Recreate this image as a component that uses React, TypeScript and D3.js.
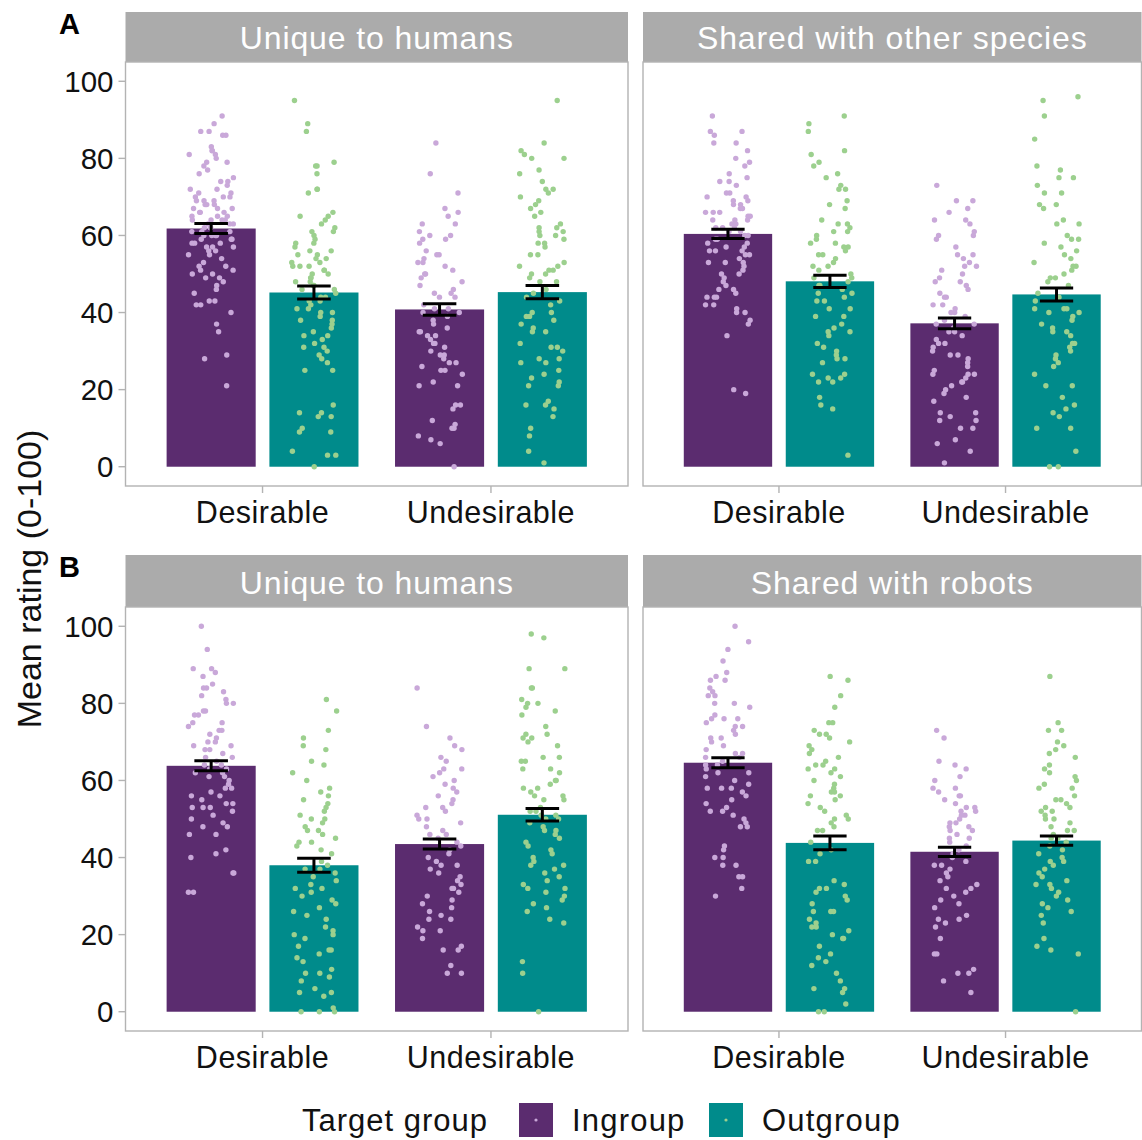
import React from "react";
import * as d3 from "d3";

// ---------- data ----------
const conditions = ["Desirable", "Undesirable"];
const targetGroups = ["Ingroup", "Outgroup"];
const panelTitles = ["Unique to humans", "Shared with other species", "Unique to humans", "Shared with robots"];
const panelTags = ["A", "", "B", ""];
const yTicks = [0, 20, 40, 60, 80, 100];

// bar means, order: Desirable-Ingroup, Desirable-Outgroup, Undesirable-Ingroup, Undesirable-Outgroup
const meansA1 = [61.8, 45.2, 40.8, 45.3];
const seA1 = [1.3, 1.7, 1.5, 1.7];
const meansA2 = [60.4, 48.1, 37.2, 44.7];
const seA2 = [1.2, 1.6, 1.4, 1.7];
const meansB1 = [63.8, 38.0, 43.5, 51.1];
const seB1 = [1.3, 1.8, 1.3, 1.6];
const meansB2 = [64.6, 43.8, 41.5, 44.4];
const seB2 = [1.3, 1.8, 1.2, 1.2];

// individual ratings
const ptsA1DesIn = [91,89,87,87,86,86,83,82,82,81,81,80,79,79,78,77,76,75,74,74,73,72,72,71,71,70,70,70,69,69,69,68,68,68,67,67,67,66,66,66,65,65,65,64,64,64,64,63,63,63,62,62,62,61,61,61,60,60,60,60,59,59,59,58,58,58,57,57,57,56,56,55,55,54,53,52,52,51,51,50,50,49,49,48,47,46,45,43,43,42,42,40,37,35,29,28,21];
const ptsA1DesOut = [95,89,87,79,78,78,76,72,72,71,66,65,65,64,63,62,61,61,60,59,58,58,57,56,56,55,55,54,54,53,53,52,52,52,51,51,50,50,49,49,48,48,47,47,46,46,45,44,44,43,43,42,41,41,40,40,39,38,38,37,36,35,34,34,33,32,31,31,30,29,28,27,25,25,16,14,14,13,13,10,9,9,4,3,3,0];
const ptsA1UndIn = [84,76,71,67,66,65,63,63,61,60,60,59,59,58,56,55,55,54,53,53,52,51,50,50,49,48,47,46,45,45,44,44,42,41,41,40,40,39,38,37,36,35,35,34,34,33,32,32,31,30,29,29,28,27,27,26,25,25,24,22,21,21,16,16,15,12,11,10,10,8,7,6,0];
const ptsA1UndOut = [95,84,82,81,80,80,77,76,74,72,72,71,70,69,68,67,66,65,63,62,62,61,61,60,60,59,58,58,57,55,55,53,52,52,51,51,50,50,49,48,48,46,45,44,43,42,40,40,39,39,38,37,36,35,35,32,31,31,30,28,28,27,27,25,24,23,22,21,21,17,16,16,15,13,10,8,4,1];

const ptsA2DesIn = [91,87,87,86,84,84,82,80,79,78,76,75,74,74,73,71,71,70,70,69,69,68,68,67,67,66,66,65,65,64,64,63,63,62,62,61,60,60,59,58,57,57,56,56,55,54,53,53,52,51,50,50,49,48,47,46,46,45,44,44,44,42,42,41,40,40,38,37,34,20,19,66,64,62,61,59,58,56,55,53];
const ptsA2DesOut = [91,89,87,82,81,79,78,76,75,73,72,72,69,68,67,64,63,63,62,61,61,60,59,58,58,57,57,56,55,55,54,53,52,52,51,50,49,49,48,47,47,46,45,45,44,43,43,41,41,39,39,37,36,35,35,34,32,31,30,29,28,28,27,24,24,23,23,22,22,18,16,15,3];
const ptsA2UndIn = [73,69,69,67,66,64,64,63,61,60,60,59,57,55,55,54,53,52,52,51,50,49,48,48,47,46,45,44,44,42,42,41,40,40,39,38,37,37,36,35,35,34,33,32,32,31,30,29,29,28,27,26,25,24,24,24,23,22,22,21,20,19,18,17,14,14,13,12,12,10,10,7,6,4,1];
const ptsA2UndOut = [96,95,91,85,78,77,75,75,73,71,71,68,68,67,64,63,63,60,59,59,58,57,56,55,54,53,52,52,51,50,49,49,48,47,45,44,43,41,41,41,40,40,39,38,37,36,35,35,34,32,32,31,30,29,28,27,26,24,21,21,18,16,15,14,13,10,10,4,0,0];

const ptsB1DesIn = [100,94,89,89,88,87,85,84,84,83,82,81,80,80,78,78,77,77,75,75,74,73,73,72,71,70,70,69,69,68,68,67,66,66,65,64,64,63,63,62,62,61,61,60,59,58,58,57,56,56,55,54,54,53,53,53,52,51,50,49,48,48,46,46,42,41,40,36,36,31,31];
const ptsB1DesOut = [81,78,73,71,69,68,65,64,62,60,58,57,56,55,54,53,52,51,50,50,49,48,47,47,46,45,44,43,44,42,41,39,38,37,37,36,35,34,33,32,32,31,30,29,28,27,26,25,24,22,21,20,20,19,17,16,16,15,14,13,11,10,10,9,8,6,5,5,4,1,0,0,0];
const ptsB1UndIn = [84,74,71,69,68,66,65,63,63,62,61,60,59,58,57,56,55,54,53,53,52,51,50,50,49,48,47,46,46,45,44,43,42,41,40,39,38,38,37,36,35,34,33,32,32,31,30,29,28,27,26,25,24,24,22,21,21,19,17,16,16,12,10,10];
const ptsB1UndOut = [98,97,89,89,84,84,81,80,80,79,78,77,74,72,72,71,71,70,69,66,66,65,65,63,63,62,60,60,59,58,58,57,56,56,55,55,53,52,52,51,51,50,50,49,48,47,47,46,45,44,43,42,41,40,39,38,38,37,36,35,34,33,32,32,31,30,29,28,27,26,24,23,13,10,0];

const ptsB2DesIn = [100,96,94,91,88,87,86,86,84,83,82,82,80,80,79,77,76,76,76,75,74,74,73,72,71,71,70,69,68,67,67,66,66,65,64,64,63,62,62,61,60,59,58,58,58,57,56,55,54,53,52,52,51,50,49,48,48,43,42,40,40,38,38,35,35,32,30];
const ptsB2DesOut = [87,86,82,79,75,75,73,72,72,71,70,69,68,67,66,65,64,64,63,63,62,61,60,59,58,57,57,56,56,55,54,53,52,51,50,50,49,48,47,47,44,42,41,39,39,34,33,32,32,31,30,29,28,26,26,26,24,23,22,22,21,20,19,19,17,15,14,13,12,10,8,6,6,5,2,0,0];
const ptsB2UndIn = [73,71,65,64,63,61,60,58,58,57,56,56,55,54,53,53,52,52,51,51,50,49,49,48,48,47,47,46,45,45,44,43,42,41,40,39,38,38,37,36,35,34,33,32,32,31,30,29,28,27,25,24,24,23,22,19,15,15,11,10,10,8,5];
const ptsB2UndOut = [87,75,73,73,70,69,68,67,66,64,63,62,61,60,59,58,58,56,55,55,54,53,53,52,52,51,50,50,49,48,47,47,46,45,45,44,43,42,41,40,39,39,38,37,36,35,34,33,33,32,31,30,29,28,27,26,25,23,19,17,16,15,0];

const panelMeans = [meansA1, meansA2, meansB1, meansB2];
const panelSe = [seA1, seA2, seB1, seB2];
const panelPoints = [
  [ptsA1DesIn, ptsA1DesOut, ptsA1UndIn, ptsA1UndOut],
  [ptsA2DesIn, ptsA2DesOut, ptsA2UndIn, ptsA2UndOut],
  [ptsB1DesIn, ptsB1DesOut, ptsB1UndIn, ptsB1UndOut],
  [ptsB2DesIn, ptsB2DesOut, ptsB2UndIn, ptsB2UndOut],
];

// ---------- style ----------
const FONT = "'Liberation Sans', Arial, Helvetica, sans-serif";
const barColor: Record<string, string> = { Ingroup: "#5b2c6f", Outgroup: "#008b8b" };
const dotColor: Record<string, string> = { Ingroup: "#c9a8d9", Outgroup: "#9cd08e" };
const GRID = "#b3b3b3";
const STRIP = "#ababab";

const W = 1142;
const H = 1140;
const cols = [
  [125.5, 628],
  [643, 1141.5],
];
const rows = [
  { strip: 12, top: 62, bottom: 486 },
  { strip: 555, top: 607, bottom: 1031 },
];

const DODGE = 0.225;
const BAR_W = 0.39;
const JIT = 0.1;
const CAP_W = 0.147;

// deterministic horizontal jitter (display only, like geom_jitter width)
function jitter(i: number, k: number) {
  const s = Math.sin((i + 1) * 12.9898 + (k + 1) * 78.233) * 43758.5453;
  const v = s - Math.floor(s);
  return v * 2 - 1;
}

function Panel({ idx }: { idx: number }) {
  const r = rows[Math.floor(idx / 2)];
  const c = cols[idx % 2];
  const x = d3.scaleLinear().domain([0.4, 2.6]).range([c[0], c[1]]);
  const y = d3.scaleLinear().domain([-5, 105]).range([r.bottom, r.top]);
  const means = panelMeans[idx];
  const ses = panelSe[idx];
  const pts = panelPoints[idx];
  const cells: { cond: number; grp: number; k: number }[] = [];
  conditions.forEach((_, ci) => targetGroups.forEach((_, gi) => cells.push({ cond: ci, grp: gi, k: ci * 2 + gi })));
  const centerOf = (cell: { cond: number; grp: number }) => cell.cond + 1 + (cell.grp === 0 ? -DODGE : DODGE);
  const showY = idx % 2 === 0;
  return (
    <g>
      {/* strip */}
      <rect x={c[0]} y={r.strip} width={c[1] - c[0]} height={r.top - r.strip} fill={STRIP} />
      <text
        x={(c[0] + c[1]) / 2}
        y={r.top - 13}
        textAnchor="middle"
        fill="#ffffff"
        fontSize={32}
        letterSpacing={0.9}
        fontFamily={FONT}
      >
        {panelTitles[idx]}
      </text>
      {panelTags[idx] && (
        <text x={59} y={r.strip + 21.5} fontSize={29} fontWeight="bold" fontFamily={FONT} fill="#000">
          {panelTags[idx]}
        </text>
      )}
      {/* bars */}
      {cells.map((cell) => {
        const cx = centerOf(cell);
        const g = targetGroups[cell.grp];
        return (
          <rect
            key={"b" + cell.k}
            x={x(cx - BAR_W / 2)}
            y={y(means[cell.k])}
            width={x(cx + BAR_W / 2) - x(cx - BAR_W / 2)}
            height={y(0) - y(means[cell.k])}
            fill={barColor[g]}
          />
        );
      })}
      {/* points */}
      {cells.map((cell) => {
        const cx = centerOf(cell);
        const g = targetGroups[cell.grp];
        return pts[cell.k].map((v, i) => (
          <circle
            key={"p" + cell.k + "-" + i}
            cx={x(cx + jitter(i, cell.k + idx * 4) * JIT)}
            cy={y(v)}
            r={2.7}
            fill={dotColor[g]}
          />
        ));
      })}
      {/* error bars */}
      {cells.map((cell) => {
        const cx = centerOf(cell);
        const m = means[cell.k];
        const s = ses[cell.k];
        const x0 = x(cx - CAP_W / 2);
        const x1 = x(cx + CAP_W / 2);
        return (
          <g key={"e" + cell.k} stroke="#000" strokeWidth={3} fill="none">
            <line x1={x(cx)} x2={x(cx)} y1={y(m - s)} y2={y(m + s)} />
            <line x1={x0} x2={x1} y1={y(m - s)} y2={y(m - s)} />
            <line x1={x0} x2={x1} y1={y(m + s)} y2={y(m + s)} />
          </g>
        );
      })}
      {/* border */}
      <rect
        x={c[0]}
        y={r.top}
        width={c[1] - c[0]}
        height={r.bottom - r.top}
        fill="none"
        stroke={GRID}
        strokeWidth={1.4}
      />
      {/* y axis */}
      {showY &&
        yTicks.map((t) => (
          <g key={"yt" + t}>
            <line x1={c[0] - 7} x2={c[0]} y1={y(t)} y2={y(t)} stroke={GRID} strokeWidth={1.4} />
            <text
              x={c[0] - 12}
              y={y(t) + 10.5}
              textAnchor="end"
              fontSize={29.5}
              fontFamily={FONT}
              fill="#111"
            >
              {t}
            </text>
          </g>
        ))}
      {/* x axis */}
      {conditions.map((cond, ci) => (
        <g key={"xt" + ci}>
          <line x1={x(ci + 1)} x2={x(ci + 1)} y1={r.bottom} y2={r.bottom + 7} stroke={GRID} strokeWidth={1.4} />
          <text
            x={x(ci + 1)}
            y={r.bottom + 37}
            textAnchor="middle"
            fontSize={30.5}
            letterSpacing={0.5}
            fontFamily={FONT}
            fill="#111"
          >
            {cond}
          </text>
        </g>
      ))}
    </g>
  );
}

function Legend() {
  const keyX = [519, 709];
  const textX = [572, 762];
  return (
    <g fontFamily={FONT}>
      <text x={302} y={1131} fontSize={31} letterSpacing={1} fill="#111">
        Target group
      </text>
      {targetGroups.map((g, i) => (
        <g key={g}>
          <rect x={keyX[i]} y={1103} width={34} height={34} fill={barColor[g]} />
          <circle cx={keyX[i] + 17} cy={1120} r={1.6} fill={dotColor[g]} />
          <text x={textX[i]} y={1131} fontSize={31} letterSpacing={1.2} fill="#111">
            {g}
          </text>
        </g>
      ))}
    </g>
  );
}

export default function App() {
  return (
    <div style={{ position: "absolute", left: 0, top: 0, width: W, height: H, background: "#fff" }}>
      <svg width={W} height={H} viewBox={`0 0 ${W} ${H}`} style={{ display: "block" }}>
        <rect x={0} y={0} width={W} height={H} fill="#fff" />
        {[0, 1, 2, 3].map((i) => (
          <Panel key={i} idx={i} />
        ))}
        <text
          transform={`translate(41, 579) rotate(-90)`}
          textAnchor="middle"
          fontSize={34}
          fontFamily={FONT}
          fill="#111"
        >
          Mean rating (0-100)
        </text>
        <Legend />
      </svg>
    </div>
  );
}
